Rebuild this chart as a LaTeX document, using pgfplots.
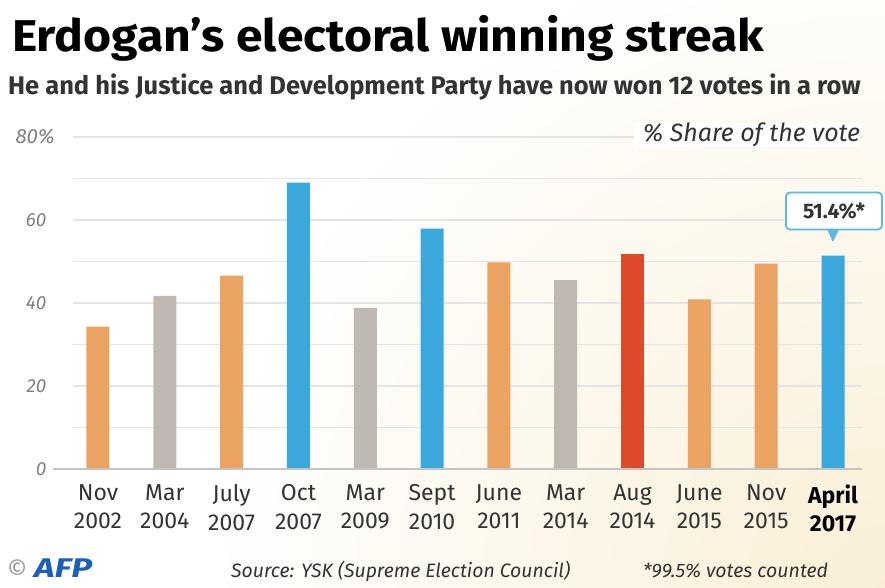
\documentclass[border=0pt]{standalone}
\usepackage{fontspec}
\setmainfont{Fira Sans}
\newfontfamily\titlefont[FakeStretch=1.08]{Fira Sans}
\usepackage{pgfplots}
\pgfplotsset{compat=1.18}

\definecolor{akporange}{HTML}{EBA363}
\definecolor{akpgray}{HTML}{BFB8B0}
\definecolor{akpblue}{HTML}{3AA8DA}
\definecolor{akpred}{HTML}{DD4A2A}
\definecolor{gridgray}{HTML}{E4E4E4}
\definecolor{basegray}{HTML}{C4C4C4}
\definecolor{cream}{HTML}{FAEFD6}
\definecolor{labeltext}{HTML}{333333}
\definecolor{afpblue}{HTML}{1C5FB8}
\definecolor{calloutblue}{HTML}{5DB7DF}

\begin{document}
\begin{tikzpicture}[x=1pt,y=1pt]
\useasboundingbox (0,0) rectangle (885,588);
% background with a warm tint in the lower right corner
\begin{scope}
  \clip (0,0) rectangle (885,588);
  \fill[white] (0,0) rectangle (885,588);
  \shade[inner color=cream, outer color=white] (885,0) circle (680);
\end{scope}

% titles
\node[anchor=base west, inner sep=0, font=\titlefont\fontsize{44.5}{48}\selectfont\bfseries]
  at (12,536) {Erdogan’s electoral winning streak};
\node[anchor=base west, inner sep=0, font=\fontsize{25.5}{28}\selectfont\bfseries, text=labeltext]
  at (8,493) {He and his Justice and Development Party have now won 12 votes in a row};

\begin{axis}[
    at={(73pt,119pt)}, anchor=south west,
    scale only axis, width=789pt, height=332pt,
    xmin=-0.374, xmax=11.434,
    ymin=0, ymax=80,
    ybar, bar width=23pt,
    axis line style={draw=none},
    major tick length=0pt,
    ymajorgrids=true,
    grid style={draw=gridgray, line width=1.3pt},
    ytick={0,10,...,80},
    yticklabels={0,,20,,40,,60,,},
    yticklabel style={font=\fontsize{19}{22}\selectfont\itshape, text=gray, xshift=-23pt},
    xtick={0,...,11},
    xticklabels={{Nov\\2002},{Mar\\2004},{July\\2007},{Oct\\2007},{Mar\\2009},{Sept\\2010},
                 {June\\2011},{Mar\\2014},{Aug\\2014},{June\\2015},{Nov\\2015},
                 {\textbf{\textcolor{black}{April}}\\\textbf{\textcolor{black}{2017}}}},
    xticklabel style={align=center, font=\fontsize{23}{28.5}\selectfont, text=labeltext, yshift=-12pt},
    /pgf/number format/assume math mode=true,
]
% AKP result by vote, coloured by type of vote
\addplot[fill=akporange, draw=none, bar shift=0pt]
    coordinates {(0,34.3) (2,46.6) (6,49.8) (9,40.9) (10,49.5)};
\addplot[fill=akpgray, draw=none, bar shift=0pt]
    coordinates {(1,41.7) (4,38.8) (7,45.5)};
\addplot[fill=akpblue, draw=none, bar shift=0pt]
    coordinates {(3,69.0) (5,57.9) (11,51.4)};
\addplot[fill=akpred, draw=none, bar shift=0pt]
    coordinates {(8,51.8)};
\end{axis}

% baseline
\draw[line width=2pt, basegray] (53,119) -- (862,119);

% top tick label and unit note
\node[anchor=east, inner sep=0, font=\fontsize{20.5}{22}\selectfont\itshape, text=gray] at (55,451) {80\%};
\node[anchor=east, fill=white, inner sep=0pt, outer sep=0pt, minimum height=24pt,
      font=\fontsize{25}{27}\selectfont\itshape, text=labeltext]
  at (860,453) {\hspace{9pt}\% Share of the vote};

% callout for the latest vote
\fill[calloutblue] (827,359) -- (839,359) -- (833,346) -- cycle;
\node[draw=calloutblue, line width=1.8pt, fill=white, rounded corners=4pt,
      minimum width=96pt, minimum height=37pt, inner sep=2pt,
      font=\fontsize{21}{24}\selectfont\bfseries, text=labeltext]
  at (834,377) {51.4\%*};

% footer
\node[anchor=base west, inner sep=0, font=\fontsize{25}{28}\selectfont, text=gray!80]
  at (7,9) {\textcopyright};
\node[anchor=base west, inner sep=0, font=\fontsize{27}{30}\selectfont\bfseries\itshape, text=afpblue]
  at (34,10) {\scalebox{1.3}[1]{AFP}};
\node[anchor=base west, inner sep=0, font=\fontsize{19.4}{22}\selectfont\itshape, text=labeltext]
  at (231,10) {Source: YSK (Supreme Election Council)};
\node[anchor=base west, inner sep=0, font=\fontsize{19.5}{22}\selectfont\itshape, text=labeltext]
  at (643,10) {*99.5\% votes counted};
\end{tikzpicture}
\end{document}
